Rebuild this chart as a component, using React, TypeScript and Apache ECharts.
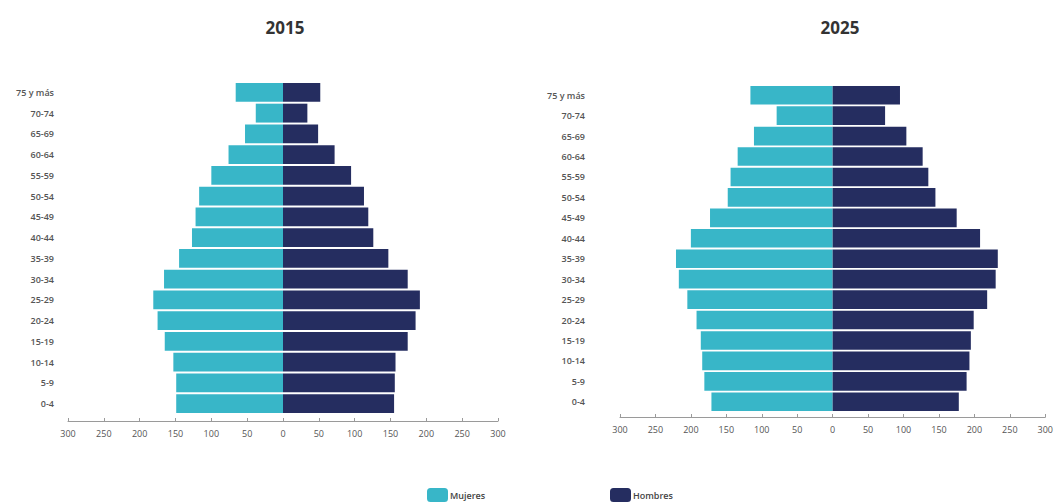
import React, { useEffect, useRef } from "react";
import * as echarts from "echarts";

const categories = ["0-4", "5-9", "10-14", "15-19", "20-24", "25-29", "30-34", "35-39", "40-44", "45-49", "50-54", "55-59", "60-64", "65-69", "70-74", "75 y más"];
const mujeres2015 = [149, 149, 153, 165, 175, 181, 166, 145, 127, 122, 117, 100, 76, 53, 38, 66];
const hombres2015 = [155, 156, 157, 174, 185, 191, 174, 147, 126, 119, 113, 95, 72, 49, 34, 52];
const mujeres2025 = [171, 181, 184, 186, 192, 205, 217, 221, 200, 173, 148, 144, 134, 111, 79, 116];
const hombres2025 = [178, 189, 193, 195, 199, 218, 230, 233, 208, 175, 145, 135, 127, 104, 74, 95];
const years = ["2015", "2025"];

const CYAN = "#38B6C8";
const NAVY = "#252D60";

export default function App() {
  const ref = useRef<HTMLDivElement>(null);
  useEffect(() => {
    document.body.style.margin = "0";
    const chart = echarts.init(ref.current!, null, { renderer: "svg" });
    const grids = [
      { left: 68, top: 82, width: 430, height: 332 },
      { left: 620, top: 85, width: 430, height: 327 },
    ];
    const offsets = [7, 5];
    const labelMargins = [14, 35];
    const xAxis = grids.map((_, i) => ({
      type: "value",
      gridIndex: i,
      min: -300,
      max: 300,
      interval: 50,
      offset: offsets[i],
      splitLine: { show: false },
      axisLine: { show: true, lineStyle: { color: "#9a9a9a", width: 1 } },
      axisTick: { show: true, inside: true, length: 3, lineStyle: { color: "#9a9a9a" } },
      axisLabel: {
        color: "#555",
        fontSize: 9,
        fontFamily: "Open Sans",
        margin: 8,
        formatter: (v: number) => String(Math.abs(v)),
      },
    }));
    const yAxis = grids.map((_, i) => ({
      type: "category",
      gridIndex: i,
      data: categories,
      axisLine: { show: false },
      axisTick: { show: false },
      axisLabel: {
        color: "#555",
        fontSize: 9,
        fontWeight: 600,
        fontFamily: "Open Sans",
        margin: labelMargins[i],
      },
    }));
    const mk = (name: string, data: number[], color: string, idx: number, neg: boolean) => ({
      name,
      type: "bar",
      xAxisIndex: idx,
      yAxisIndex: idx,
      stack: "s" + idx,
      barCategoryGap: "9%",
      itemStyle: { color },
      data: data.map((v) => (neg ? -v : v)),
    });
    const legendCommon = {
      top: 488,
      itemWidth: 21,
      itemHeight: 14,
      itemGap: 4,
      padding: 0,
      textStyle: { fontSize: 9, fontWeight: 600, color: "#444", fontFamily: "Open Sans", padding: [0, 0, 0, -3] },
    };
    chart.setOption({
      animation: false,
      title: years.map((y, i) => ({
        text: y,
        left: i === 0 ? 280 : 835,
        top: 14,
        textAlign: "center",
        textStyle: { fontSize: 17, fontWeight: "bold", color: "#333", fontFamily: "Open Sans" },
      })),
      legend: [
        { ...legendCommon, data: ["Mujeres"], left: 427 },
        { ...legendCommon, data: ["Hombres"], left: 610 },
      ],
      grid: grids,
      xAxis,
      yAxis,
      series: [
        mk("Mujeres", mujeres2015, CYAN, 0, true),
        mk("Hombres", hombres2015, NAVY, 0, false),
        mk("Mujeres", mujeres2025, CYAN, 1, true),
        mk("Hombres", hombres2025, NAVY, 1, false),
      ],
    });
    return () => chart.dispose();
  }, []);
  return <div ref={ref} style={{ width: 1056, height: 502 }} />;
}
